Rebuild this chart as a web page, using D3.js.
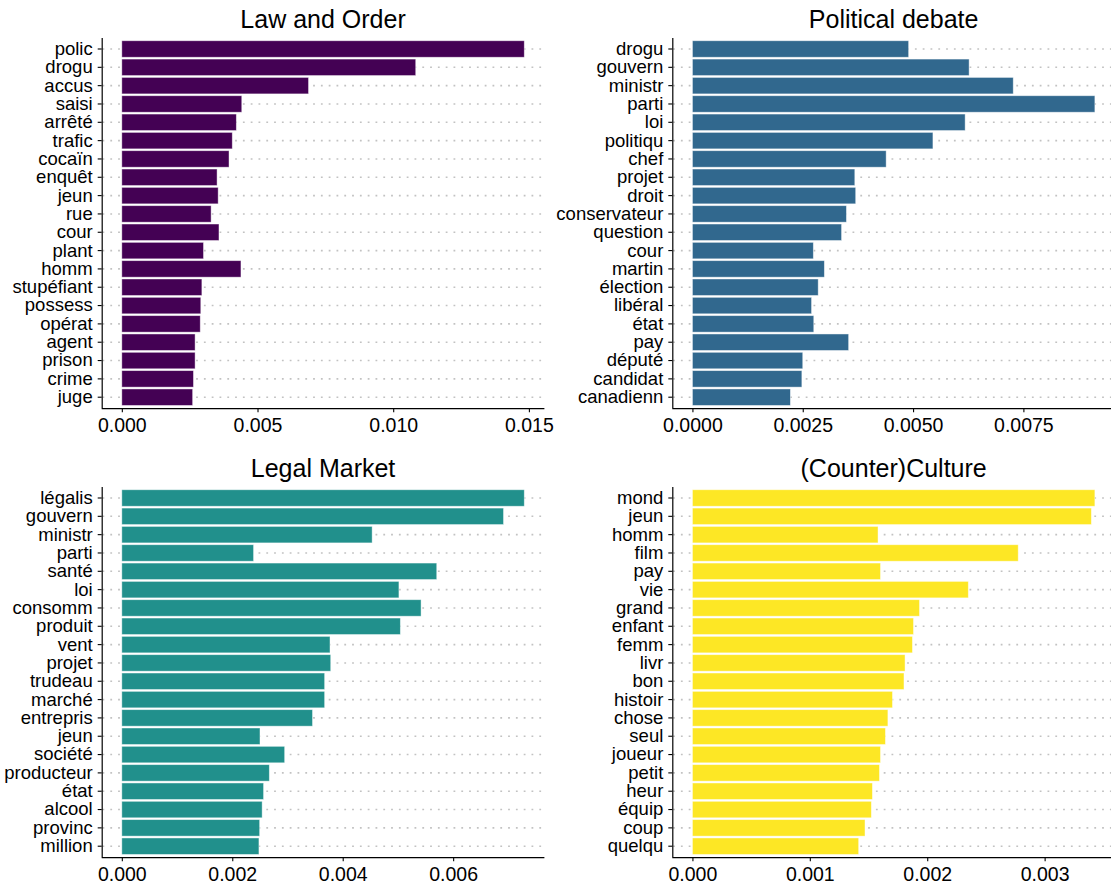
<!DOCTYPE html>
<html>
<head>
<meta charset="utf-8">
<script src="https://cdn.jsdelivr.net/npm/d3@7"></script>
<style>
  html, body { margin: 0; padding: 0; background: #fff; }
  svg { display: block; }
  text { font-family: "Liberation Sans", Arial, Helvetica, sans-serif; fill: #000; }
</style>
</head>
<body>
<svg id="chart" width="1111" height="890"></svg>
<script>
// Top terms per topic (term weight within topic)
const lawTerms = ["polic", "drogu", "accus", "saisi", "arrêté", "trafic", "cocaïn", "enquêt", "jeun", "rue",
  "cour", "plant", "homm", "stupéfiant", "possess", "opérat", "agent", "prison", "crime", "juge"];
const lawValues = [0.01483, 0.01083, 0.00688, 0.00442, 0.00422, 0.00407, 0.00395, 0.00351, 0.00355, 0.00329,
  0.00358, 0.00301, 0.00439, 0.00295, 0.00291, 0.00289, 0.00270, 0.00270, 0.00264, 0.00261];

const politicsTerms = ["drogu", "gouvern", "ministr", "parti", "loi", "politiqu", "chef", "projet", "droit", "conservateur",
  "question", "cour", "martin", "élection", "libéral", "état", "pay", "député", "candidat", "canadienn"];
const politicsValues = [0.00490, 0.00627, 0.00727, 0.00912, 0.00618, 0.00545, 0.00439, 0.00368, 0.00370, 0.00349,
  0.00338, 0.00274, 0.00299, 0.00285, 0.00270, 0.00275, 0.00354, 0.00250, 0.00248, 0.00222];

const marketTerms = ["légalis", "gouvern", "ministr", "parti", "santé", "loi", "consomm", "produit", "vent", "projet",
  "trudeau", "marché", "entrepris", "jeun", "société", "producteur", "état", "alcool", "provinc", "million"];
const marketValues = [0.007288, 0.006912, 0.004533, 0.002386, 0.005703, 0.005018, 0.005419, 0.005044, 0.003770, 0.003783,
  0.003673, 0.003673, 0.003453, 0.002502, 0.002949, 0.002671, 0.002567, 0.002541, 0.002496, 0.002483];

const cultureTerms = ["mond", "jeun", "homm", "film", "pay", "vie", "grand", "enfant", "femm", "livr",
  "bon", "histoir", "chose", "seul", "joueur", "petit", "heur", "équip", "coup", "quelqu"];
const cultureValues = [0.003428, 0.003398, 0.001581, 0.002775, 0.001602, 0.002350, 0.001934, 0.001883, 0.001874, 0.001811,
  0.001802, 0.001704, 0.001665, 0.001644, 0.001602, 0.001593, 0.001533, 0.001524, 0.001470, 0.001416];

const topicTitles = ["Law and Order", "Political debate", "Legal Market", "(Counter)Culture"];
const topicColors = ["#440154", "#31688E", "#21908C", "#FDE725"];

const lawTicks = [0, 0.005, 0.010, 0.015];
const politicsTicks = [0, 0.0025, 0.0050, 0.0075];
const marketTicks = [0, 0.002, 0.004, 0.006];
const cultureTicks = [0, 0.001, 0.002, 0.003];
const tickFormats = [".3f", ".4f", ".3f", ".3f"];

const panels = [
  { terms: lawTerms, values: lawValues, ticks: lawTicks },
  { terms: politicsTerms, values: politicsValues, ticks: politicsTicks },
  { terms: marketTerms, values: marketValues, ticks: marketTicks },
  { terms: cultureTerms, values: cultureValues, ticks: cultureTicks }
];

// panel frames (2 x 2 grid)
const colLeft = [101.7, 672.3];
const rowTop = [38, 487];
const panelW = 442.7;
const panelH = 370.2;

const svg = d3.select("#chart");

panels.forEach((p, i) => {
  const x0 = colLeft[i % 2];
  const y0 = rowTop[Math.floor(i / 2)];
  const g = svg.append("g");

  const maxV = d3.max(p.values);
  const pad = maxV * 0.05;
  const x = d3.scaleLinear().domain([-pad, maxV + pad]).range([x0, x0 + panelW]);
  const y = d3.scaleBand().domain(p.terms).range([y0, y0 + panelH])
    .paddingInner(0.1).paddingOuter(0.15);

  // dotted horizontal guides at each term
  g.append("g").selectAll("line").data(p.terms).join("line")
    .attr("x1", x0 + 0.8).attr("x2", x0 + panelW)
    .attr("y1", d => y(d) + y.bandwidth() / 2)
    .attr("y2", d => y(d) + y.bandwidth() / 2)
    .attr("stroke", "#c2c2c2")
    .attr("stroke-width", 1.6)
    .attr("stroke-dasharray", "1.8 6");

  // bars
  g.append("g").selectAll("rect").data(p.terms.map((t, k) => ({ t, v: p.values[k] }))).join("rect")
    .attr("x", x(0))
    .attr("y", d => y(d.t))
    .attr("width", d => x(d.v) - x(0))
    .attr("height", y.bandwidth())
    .attr("fill", topicColors[i])
    .attr("stroke", "#ffffff")
    .attr("stroke-opacity", 0.55)
    .attr("stroke-width", 0.8);

  // y axis
  const yAxis = g.append("g")
    .attr("transform", `translate(${x0},0)`)
    .call(d3.axisLeft(y).tickSize(4).tickPadding(5));
  yAxis.select(".domain").attr("d", `M0.5,${y0}V${y0 + panelH}`).attr("stroke", "#000").attr("stroke-width", 1.2);
  yAxis.selectAll(".tick line").attr("stroke", "#000").attr("stroke-width", 1.1);
  yAxis.selectAll(".tick text")
    .attr("font-size", 18.5)
    .attr("font-family", "'Liberation Sans', Arial, sans-serif")
    .attr("fill", "#000");

  // x axis
  const xAxis = g.append("g")
    .attr("transform", `translate(0,${y0 + panelH})`)
    .call(d3.axisBottom(x).tickValues(p.ticks).tickFormat(d3.format(tickFormats[i])).tickSize(4).tickPadding(6));
  xAxis.select(".domain").attr("d", `M${x0},0.5H${x0 + panelW}`).attr("stroke", "#000").attr("stroke-width", 1.2);
  xAxis.selectAll(".tick line").attr("stroke", "#000").attr("stroke-width", 1.1);
  xAxis.selectAll(".tick text")
    .attr("font-size", 19.5)
    .attr("font-family", "'Liberation Sans', Arial, sans-serif")
    .attr("fill", "#000");

  // title
  g.append("text")
    .attr("x", x0 + panelW / 2)
    .attr("y", y0 - 10)
    .attr("text-anchor", "middle")
    .attr("font-size", 25)
    .text(topicTitles[i]);
});
</script>
</body>
</html>
